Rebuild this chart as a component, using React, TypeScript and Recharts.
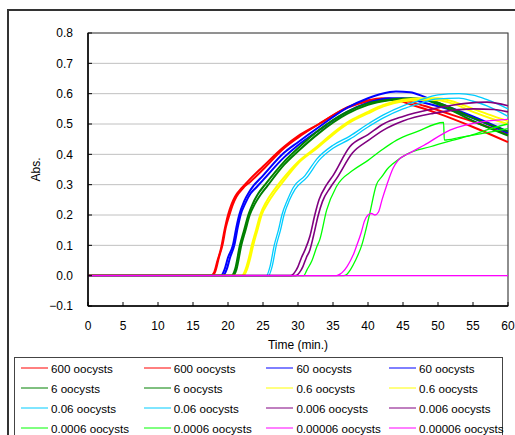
import React from 'react';
import { LineChart, Line, XAxis, YAxis, CartesianGrid, ReferenceArea, Legend } from 'recharts';

type P = [number, number];

const xTicks = [0, 5, 10, 15, 20, 25, 30, 35, 40, 45, 50, 55, 60];
const yTicks = [-0.1, 0, 0.1, 0.2, 0.3, 0.4, 0.5, 0.6, 0.7, 0.8];

const red600a: P[] = [[0,0],[17.5,0],[18,0.01],[18.5,0.05],[19,0.09],[19.5,0.15],[20,0.2],[20.5,0.235],[21,0.26],[22,0.29],[23,0.315],[25,0.36],[28,0.425],[30,0.46],[33,0.5],[37,0.555],[40,0.578],[42,0.585],[44,0.58],[46,0.565],[50,0.535],[55,0.49],[60,0.44]];
const red600b: P[] = [[0,0],[17.7,0],[18.2,0.015],[18.7,0.06],[19.2,0.1],[19.7,0.16],[20.2,0.2],[20.7,0.235],[21.2,0.26],[22.2,0.29],[23.2,0.31],[25,0.35],[28,0.42],[30,0.455],[33,0.5],[37,0.553],[40,0.575],[43,0.583],[45,0.578],[48,0.56],[52,0.53],[56,0.5],[60,0.465]];
const blue60a: P[] = [[0,0],[19,0],[19.5,0.02],[20,0.06],[20.7,0.1],[21.2,0.16],[21.6,0.2],[22.3,0.245],[23,0.275],[23.6,0.295],[25,0.33],[28,0.405],[30,0.44],[33,0.49],[37,0.553],[40,0.585],[42,0.6],[44,0.607],[46,0.605],[48,0.59],[50,0.57],[55,0.525],[60,0.475]];
const blue60b: P[] = [[0,0],[19.3,0],[19.8,0.02],[20.3,0.06],[20.9,0.1],[21.4,0.16],[21.8,0.2],[22.5,0.24],[23.2,0.27],[24,0.29],[25,0.315],[28,0.39],[30,0.43],[33,0.48],[37,0.54],[40,0.57],[43,0.585],[45,0.585],[48,0.57],[52,0.545],[56,0.51],[60,0.47]];
const green6a: P[] = [[0,0],[20.5,0],[21,0.02],[21.7,0.1],[22.3,0.15],[22.9,0.2],[23.5,0.235],[24.3,0.27],[25.3,0.3],[28,0.375],[30,0.42],[33,0.48],[37,0.54],[40,0.568],[43,0.58],[46,0.585],[48,0.582],[50,0.57],[55,0.52],[60,0.475]];
const green6b: P[] = [[0,0],[20.7,0],[21.2,0.02],[21.9,0.1],[22.5,0.15],[23.1,0.2],[23.8,0.235],[24.6,0.265],[25.6,0.295],[28,0.365],[30,0.41],[33,0.47],[37,0.533],[40,0.563],[43,0.578],[46,0.583],[48,0.58],[50,0.565],[55,0.51],[60,0.462]];
const yellow06a: P[] = [[0,0],[22,0],[22.5,0.02],[23,0.06],[23.4,0.1],[24,0.15],[24.6,0.2],[25.5,0.245],[26.5,0.28],[27.5,0.31],[30,0.375],[32.7,0.425],[35,0.47],[37.4,0.51],[40,0.54],[42.2,0.563],[45,0.58],[48,0.585],[50,0.585],[52,0.575],[55,0.55],[58,0.525],[60,0.51]];
const yellow06b: P[] = [[0,0],[22.2,0],[22.7,0.02],[23.2,0.06],[23.6,0.1],[24.2,0.15],[24.8,0.2],[25.7,0.24],[26.7,0.275],[27.7,0.305],[30,0.37],[32.7,0.42],[35,0.465],[37.4,0.505],[40,0.535],[42.2,0.558],[45,0.575],[48,0.58],[50,0.578],[52,0.568],[55,0.54],[58,0.515],[60,0.5]];
const cyan006a: P[] = [[0,0],[25.5,0],[26,0.03],[26.6,0.1],[27.2,0.15],[27.7,0.2],[28.5,0.25],[29.3,0.29],[31,0.33],[32.7,0.385],[35,0.43],[37.4,0.46],[40,0.5],[42.2,0.53],[45,0.56],[47,0.575],[50,0.596],[53,0.6],[55,0.595],[57,0.58],[60,0.55]];
const cyan006b: P[] = [[0,0],[25.8,0],[26.3,0.03],[26.9,0.1],[27.5,0.15],[28,0.2],[28.8,0.25],[29.6,0.285],[31.3,0.325],[33,0.38],[35,0.42],[37.4,0.45],[40,0.49],[42.2,0.52],[45,0.55],[47,0.565],[50,0.583],[53,0.585],[55,0.575],[57,0.56],[60,0.525]];
const purple0006a: P[] = [[0,0],[29,0],[29.5,0.01],[30,0.03],[30.5,0.06],[31,0.085],[31.7,0.13],[32.4,0.2],[33,0.25],[34.1,0.3],[35,0.33],[37.4,0.425],[40,0.465],[42.2,0.5],[45,0.525],[49.3,0.55],[52,0.562],[54,0.568],[57,0.572],[60,0.56]];
const purple0006b: P[] = [[0,0],[29.7,0],[30.2,0.01],[30.7,0.03],[31.2,0.06],[31.7,0.085],[32.2,0.13],[32.9,0.2],[33.5,0.245],[34.6,0.29],[35.5,0.32],[37.8,0.405],[40,0.445],[42.2,0.48],[45,0.51],[49.3,0.535],[52,0.545],[55,0.55],[58,0.548],[60,0.54]];
const lime00006a: P[] = [[0,0],[30.8,0],[31.3,0.02],[32,0.05],[32.7,0.096],[33.1,0.118],[34.1,0.217],[35.5,0.294],[37.9,0.348],[40,0.38],[42,0.415],[44.1,0.447],[47,0.475],[50.8,0.505],[50.9,0.447],[53,0.455],[55,0.463],[58,0.476],[60,0.485]];
const lime00006b: P[] = [[0,0],[36.5,0],[37,0.005],[37.5,0.02],[38.2,0.05],[39.1,0.1],[40.2,0.2],[41.2,0.3],[42,0.327],[42.7,0.35],[43.6,0.37],[45.5,0.4],[48.9,0.425],[52.2,0.447],[55,0.465],[58,0.488],[60,0.5]];
const magenta000006a: P[] = [[0,0],[35.5,0],[36,0.005],[36.5,0.015],[37,0.03],[37.5,0.05],[38,0.075],[38.4,0.1],[39,0.14],[39.5,0.18],[40,0.2],[40.5,0.205],[41,0.2],[41.5,0.21],[42,0.25],[42.7,0.3],[43.6,0.355],[44.3,0.38],[46,0.405],[48,0.43],[51.7,0.48],[56.5,0.508],[60,0.515]];
const magenta000006b: P[] = [[0,0],[60,0]];

const names = ['600 oocysts','600 oocysts','60 oocysts','60 oocysts','6 oocysts','6 oocysts','0.6 oocysts','0.6 oocysts','0.06 oocysts','0.06 oocysts','0.006 oocysts','0.006 oocysts','0.0006 oocysts','0.0006 oocysts','0.00006 oocysts','0.00006 oocysts'];
const colors = ['#FF0000','#FF0000','#0000FF','#0000FF','#008000','#008000','#FFFF00','#FFFF00','#00CCFF','#00CCFF','#800080','#800080','#00FF00','#00FF00','#FF00FF','#FF00FF'];
const widths = [2,2,2,2,2,2,2,2,1.3,1.3,1.6,1.6,1.3,1.3,1.3,1.3];
const pointSets = [red600a, red600b, blue60a, blue60b, green6a, green6b, yellow06a, yellow06b, cyan006a, cyan006b, purple0006a, purple0006b, lime00006a, lime00006b, magenta000006a, magenta000006b];

const series = pointSets.map((pts, i) => ({
  key: 's' + i,
  name: names[i],
  color: colors[i],
  width: widths[i],
  data: pts.map(([t, v]) => ({ t, v })),
}));

const FONT = '"Liberation Sans", Arial, sans-serif';

const LegendBox = () => (
  <div style={{ position: 'relative', width: 489, height: 90, border: '1px solid #444', boxSizing: 'border-box', background: '#fff', fontFamily: FONT, fontSize: 11.6, color: '#000' }}>
    {series.map((s, i) => {
      const col = i % 4;
      const row = Math.floor(i / 4);
      return (
        <div key={s.key} style={{ position: 'absolute', left: 6 + col * 122.7, top: 10 + row * 20 - 8, height: 16, display: 'flex', alignItems: 'center', whiteSpace: 'nowrap' }}>
          <svg width={27} height={4} style={{ marginRight: 3 }}>
            <line x1={0} y1={2} x2={27} y2={2} stroke={s.color} strokeWidth={1} />
          </svg>
          <span>{s.name}</span>
        </div>
      );
    })}
  </div>
);

const fmtY = (v: number) => (v < 0 ? '\u2212' + Math.abs(v).toFixed(1) : v.toFixed(1));

export default function App() {
  return (
    <div style={{ position: 'fixed', left: 0, top: 0, width: 515, height: 435, overflow: 'hidden', background: '#fff' }}>
      <div style={{ position: 'absolute', left: 7, top: 9, width: 700, height: 700, borderLeft: '2px solid #333', borderTop: '2px solid #333' }} />
      <div style={{ position: 'absolute', left: 0, top: 0 }}>
        <LineChart width={515} height={435} margin={{ top: 33, right: 7, bottom: 99, left: 28 }}>
          <CartesianGrid vertical={false} stroke="#c0c0c0" strokeWidth={1} />
          <XAxis
            type="number"
            dataKey="t"
            domain={[0, 60]}
            ticks={xTicks}
            height={30}
            axisLine={{ stroke: '#000', strokeWidth: 1.5 }}
            tickLine={{ stroke: '#000' }}
            tickSize={-4}
            tickMargin={19}
            tick={{ fill: '#000', fontSize: 12, fontFamily: FONT }}
            label={{ value: 'Time (min.)', position: 'bottom', offset: 4, fill: '#000', fontSize: 12, fontFamily: FONT }}
          />
          <YAxis
            type="number"
            domain={[-0.1, 0.8]}
            ticks={yTicks}
            width={60}
            axisLine={{ stroke: '#000', strokeWidth: 1.5 }}
            tickLine={{ stroke: '#000' }}
            tickSize={-4}
            tickMargin={19}
            tickFormatter={fmtY}
            tick={{ fill: '#000', fontSize: 12, fontFamily: FONT }}
            label={{ value: 'Abs.', angle: -90, position: 'center', dx: -22, fill: '#000', fontSize: 12, fontFamily: FONT }}
          />
          <ReferenceArea x1={0} x2={60} y1={-0.1} y2={0.8} fill="none" stroke="#444" strokeWidth={1.2} />
          {series.map((s) => (
            <Line
              key={s.key}
              data={s.data}
              dataKey="v"
              name={s.name}
              type="monotone"
              stroke={s.color}
              strokeWidth={s.width}
              dot={false}
              activeDot={false}
              isAnimationActive={false}
            />
          ))}
          <Legend
            layout="vertical"
            align="center"
            verticalAlign="middle"
            wrapperStyle={{ left: 14, top: 357, width: 489, height: 90 }}
            content={() => <LegendBox />}
          />
        </LineChart>
      </div>
    </div>
  );
}
